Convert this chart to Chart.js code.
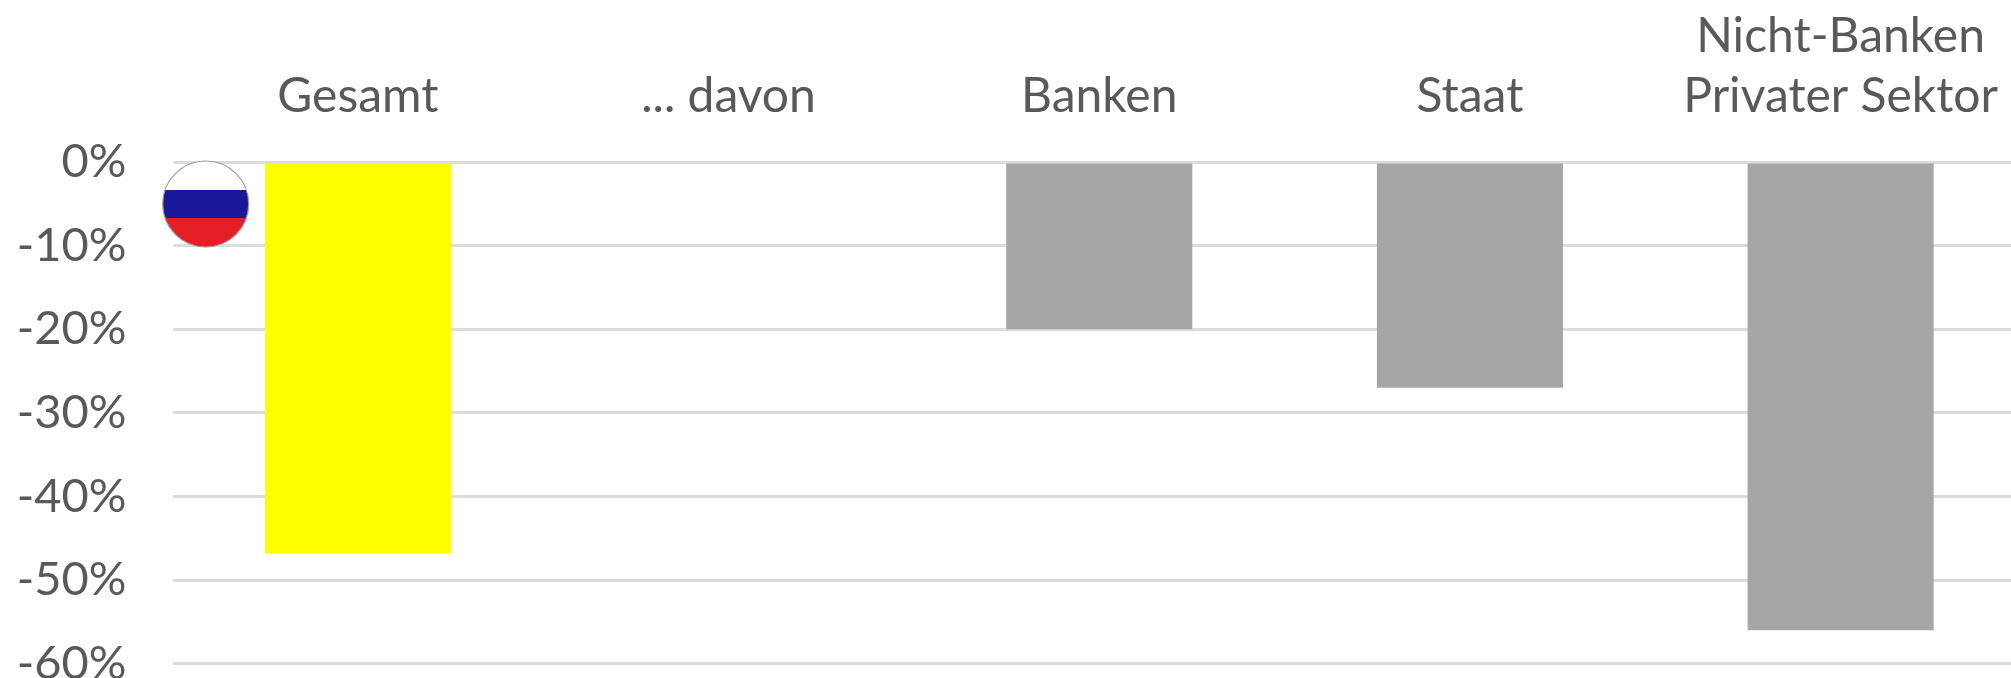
<!DOCTYPE html>
<html lang="de">
<head>
<meta charset="utf-8">
<title>Gesamt und Sektoren</title>
<script src="https://cdn.jsdelivr.net/npm/chart.js@4"></script>
<style>
  html, body { margin: 0; padding: 0; background: #fff; overflow: hidden; width: 2011px; height: 678px; }
  canvas { position: absolute; left: 0; top: 0; }
</style>
</head>
<body>
<canvas id="chart" width="2026" height="738"></canvas>
<script>
const categories = ["Gesamt", "... davon", "Banken", "Staat", ["Nicht-Banken", "Privater Sektor"]];
const values = [-46.8, null, -20, -27, -56];
const barColors = ["#ffff00", "#a6a6a6", "#a6a6a6", "#a6a6a6", "#a6a6a6"];
const textColor = "#595959";
const fontFamily = "Lato, 'Noto Sans', sans-serif";

// Round Russian flag badge in the upper left of the plot
const flagBadge = {
  id: "flagBadge",
  afterDatasetsDraw(chart) {
    const { ctx } = chart;
    const cx = 205.7, cy = 204, r = 43;
    ctx.save();
    ctx.beginPath();
    ctx.arc(cx, cy, r, 0, Math.PI * 2);
    ctx.fillStyle = "#ffffff";
    ctx.fill();
    ctx.clip();
    ctx.fillStyle = "#18179a";
    ctx.fillRect(cx - r, cy - 14, 2 * r, 28);
    ctx.fillStyle = "#e31e24";
    ctx.fillRect(cx - r, cy + 14, 2 * r, 30);
    ctx.restore();
    ctx.beginPath();
    ctx.arc(cx, cy, r, 0, Math.PI * 2);
    ctx.strokeStyle = "#9a9aa2";
    ctx.lineWidth = 1.2;
    ctx.stroke();
  }
};

new Chart(document.getElementById("chart"), {
  type: "bar",
  data: {
    labels: categories,
    datasets: [{
      data: values,
      backgroundColor: barColors,
      borderWidth: 0,
      barPercentage: 1,
      categoryPercentage: 0.502
    }]
  },
  plugins: [flagBadge],
  options: {
    responsive: false,
    animation: false,
    layout: { padding: { left: 0, right: 0, top: 0, bottom: 15 } },
    plugins: { legend: { display: false }, tooltip: { enabled: false } },
    scales: {
      x: {
        position: "top",
        grid: { display: false },
        border: { display: false },
        afterFit(scale) { scale.height = 162; },
        ticks: {
          color: textColor,
          font: { family: fontFamily, size: 48, lineHeight: 1.25 },
          maxRotation: 0,
          autoSkip: false,
          padding: 27
        }
      },
      y: {
        min: -60,
        max: 0,
        afterFit(scale) { scale.width = 172.5; },
        grid: { color: "#dcdcdc", lineWidth: 3, drawTicks: false },
        border: { display: false },
        ticks: {
          stepSize: 10,
          color: textColor,
          font: { family: fontFamily, size: 47 },
          padding: 46,
          callback: v => v + "%"
        }
      }
    }
  }
});
</script>
</body>
</html>
